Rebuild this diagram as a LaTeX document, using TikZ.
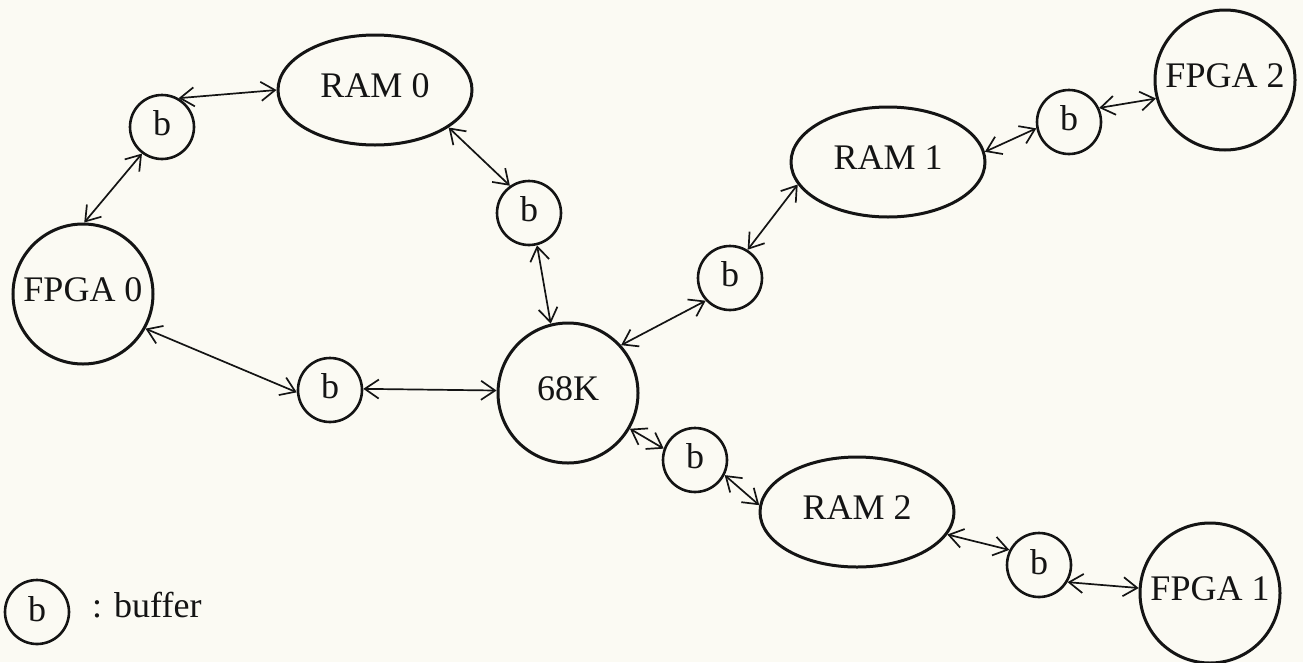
\documentclass[tikz,border=0pt]{standalone}
\usepackage{fontspec}
\setmainfont{Liberation Serif}
\usetikzlibrary{shapes.geometric,arrows.meta}
\definecolor{paper}{RGB}{251,250,243}
\definecolor{ink}{RGB}{20,20,20}

\begin{document}
\begin{tikzpicture}[x=1pt,y=-1pt,
  label text/.style={font=\fontsize{36}{40}\selectfont,text=ink},
  chip/.style={circle,draw=ink,line width=3pt,minimum size=140pt,inner sep=0pt,
    label text,text depth=8pt},
  ram/.style={ellipse,draw=ink,line width=3pt,minimum width=194pt,minimum height=110pt,
    inner sep=0pt,label text,text depth=8pt},
  buf/.style={circle,draw=ink,line width=2.6pt,minimum size=64pt,inner sep=0pt,
    label text,text depth=7pt},
  link/.style={draw=ink,line width=1.7pt,
    {Straight Barb[length=14pt,width=19pt]}-{Straight Barb[length=14pt,width=19pt]}}
]
\useasboundingbox (0,0) rectangle (1303,662);
\fill[paper] (0,0) rectangle (1303,662);

% processor, memories and FPGAs
\node[chip] (cpu)   at (568,393) {68K};
\node[chip] (fpga0) at (83,294)  {FPGA 0};
\node[chip] (fpga1) at (1210,593) {FPGA 1};
\node[chip] (fpga2) at (1225,80) {FPGA 2};
\node[ram]  (ram0)  at (375,90)  {RAM 0};
\node[ram]  (ram1)  at (888,162) {RAM 1};
\node[ram]  (ram2)  at (857,512) {RAM 2};

% buffers
\node[buf] (b1) at (162,127) {b};
\node[buf] (b2) at (529,213) {b};
\node[buf] (b3) at (730,278) {b};
\node[buf] (b4) at (1069,122) {b};
\node[buf] (b5) at (330,390) {b};
\node[buf] (b6) at (695,460) {b};
\node[buf] (b7) at (1039,565) {b};

% bidirectional links
\draw[link] (b1.60) -- (ram0.180);
\draw[link] (b1.233) -- (fpga0.89);
\draw[link] (ram0.333) -- (b2.125);
\draw[link] (b2.284) -- (cpu.104);
\draw[link] (fpga0.331) -- (b5.184);
\draw[link] (b5.2) -- (cpu.178);
\draw[link] (cpu.42) -- (b3.223);
\draw[link] (b3.58) -- (ram1.194);
\draw[link] (ram1.6) -- (b4.191);
\draw[link] (b4.25) -- (fpga2.195);
\draw[link] (cpu.330) -- (b6.160);
\draw[link] (b6.333) -- (ram2.176);
\draw[link] (ram2.346) -- (b7.153);
\draw[link] (b7.329) -- (fpga1.176);

% legend
\node[buf] (legb) at (37,612) {b};
\node[label text,anchor=base west,inner sep=0pt] (legt) at (92,617) {: buffer};
\end{tikzpicture}
\end{document}
